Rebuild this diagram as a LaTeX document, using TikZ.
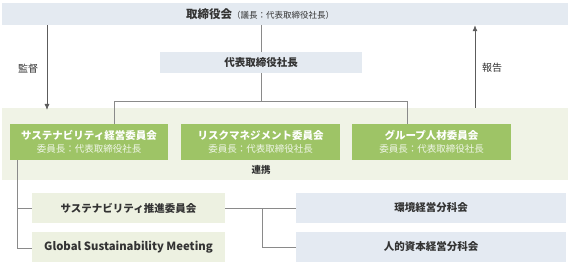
\documentclass[tikz,border=0pt]{standalone}
\usepackage{fontspec}
\setmainfont{Noto Sans CJK JP}
\usepackage{tikz}
\usetikzlibrary{arrows.meta,positioning}
\definecolor{boardblue}{HTML}{E4EAF1}
\definecolor{bandgreen}{HTML}{F0F3E6}
\definecolor{cmtgreen}{HTML}{9EC466}
\definecolor{palegreen}{HTML}{EDF1E1}
\definecolor{paleblue}{HTML}{E4EAF2}
\definecolor{linegray}{HTML}{8A8A8A}
\definecolor{textdark}{HTML}{333333}

\begin{document}
\begin{tikzpicture}[x=1pt,y=-1pt,
    box/.style={inner sep=0pt,minimum height=#1},
    cmt/.style={box=36pt,fill=cmtgreen,minimum width=159pt,text=white,align=center},
    sub/.style={box=30pt,fill=palegreen,minimum width=193pt,text=textdark,
      font=\fontsize{10.5}{12}\selectfont\bfseries},
    wg/.style={box=30pt,fill=paleblue,minimum width=270pt,text=textdark,
      font=\fontsize{10.5}{12}\selectfont\bfseries},
    conn/.style={draw=linegray,line width=0.8pt},
    flow/.style={conn,-{Latex[length=6pt,width=5pt]},draw=textdark!80}]
    \useasboundingbox (0,0) rectangle (570,267);
    % board and president
    \node[box=22pt,fill=boardblue,minimum width=566pt] (board) at (285,14) {};
    \node[text=textdark] (boardtxt) at (260,14)
      {{\fontsize{11.5}{13}\selectfont\bfseries 取締役会}{\fontsize{8.5}{10}\selectfont（議長：代表取締役社長）}};
    \node[box=21pt,fill=boardblue,minimum width=202pt,text=textdark,
      font=\fontsize{10.5}{12}\selectfont\bfseries] (pres) at (261,62.5) {代表取締役社長};
    % committees
    \node[box=72pt,fill=bandgreen,minimum width=566pt] (band) at (285,144) {};
    \node[cmt,minimum width=158pt] (c1) at (89,142)
      {{\fontsize{10.5}{14}\selectfont\bfseries サステナビリティ経営委員会}\\[1pt]{\fontsize{9.5}{11}\selectfont\color{white!85!cmtgreen}委員長：代表取締役社長}};
    \node[cmt] (c2) at (260.5,142)
      {{\fontsize{10.5}{14}\selectfont\bfseries リスクマネジメント委員会}\\[1pt]{\fontsize{9.5}{11}\selectfont\color{white!85!cmtgreen}委員長：代表取締役社長}};
    \node[cmt] (c3) at (431.5,142)
      {{\fontsize{10.5}{14}\selectfont\bfseries グループ人材委員会}\\[1pt]{\fontsize{9.5}{11}\selectfont\color{white!85!cmtgreen}委員長：代表取締役社長}};
    \node[text=textdark,font=\fontsize{9.5}{11}\selectfont\bfseries] (renkei) at (261,170) {連携};
    % lower level
    \node[sub] (promo) at (128.5,208) {サステナビリティ推進委員会};
    \node[sub,font=\fontsize{11.3}{13}\selectfont\bfseries] (gsm) at (128.5,247) {Global Sustainability Meeting};
    \node[wg] (env) at (431,208) {環境経営分科会};
    \node[wg] (human) at (431,247) {人的資本経営分科会};
    % labels
    \node[text=textdark,font=\fontsize{10}{12}\selectfont] (kansa) at (28,69) {監督};
    \node[text=textdark,font=\fontsize{10}{12}\selectfont] (houkoku) at (492,68) {報告};
    \coordinate (supv) at (47,110);
    \coordinate (rep) at (475,108);
    \coordinate (forkL) at (114,101);
    \coordinate (forkR) at (407,101);
    \coordinate (spine) at (17,248);
    \coordinate (split) at (262,247);

    \draw[conn] (pres.north) -- (pres.north |- board.south);
    \draw[conn] (pres.south) -- (pres.south |- forkL);
    \draw[conn] (forkL |- c1.north) -- (forkL) -- (forkR) -- (forkR |- c3.north);
    \draw[flow] (supv |- board.south) -- (supv);
    \draw[flow] (rep) -- (rep |- board.south);
    \draw[conn] (spine |- c1.south) -- (spine) -- (spine -| gsm.west);
    \draw[conn] (spine |- promo.west) -- (promo.west);
    \draw[conn] (promo.east) -- (env.west);
    \draw[conn] (split |- promo.east) -- (split) -- (human.west);
  \end{tikzpicture}
\end{document}
